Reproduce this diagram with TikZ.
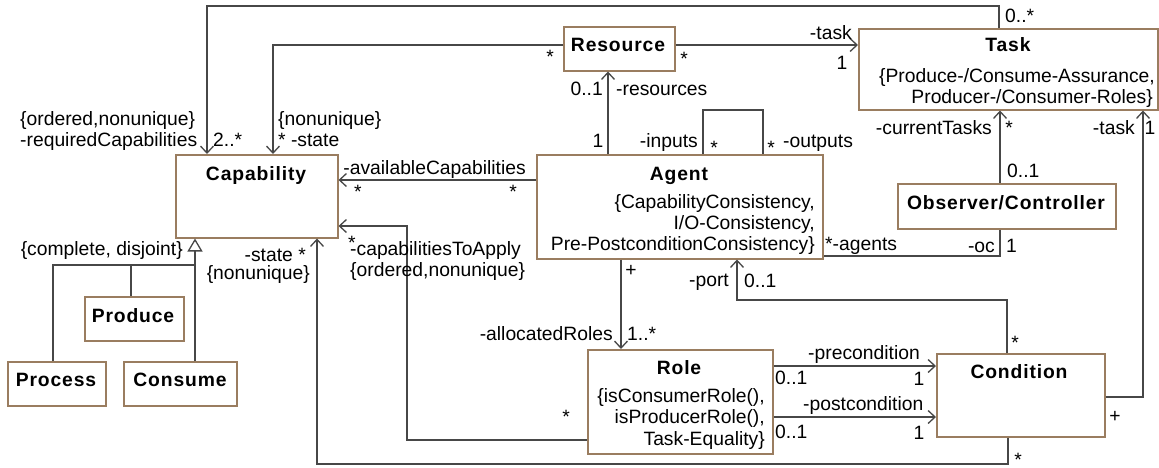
\documentclass[tikz,border=0pt]{standalone}
\usepackage{fontspec}
\setmainfont{Liberation Sans}
\newfontfamily\titlefont{Liberation Sans}[LetterSpace=4.5]
\usetikzlibrary{arrows.meta}
\definecolor{boxedge}{HTML}{9A7D60}
\definecolor{wire}{HTML}{474747}
\newcommand\diagsize{\fontsize{19.3}{21}\selectfont}

\begin{document}
\begin{tikzpicture}[x=1pt,y=-1pt,
  font=\diagsize,
  cls/.style={draw=boxedge, line width=1.5pt, fill=white, inner sep=0pt, anchor=north west},
  wireline/.style={draw=wire, line width=1.3pt},
  nav/.style={-{Straight Barb[length=7pt,width=13pt]}},
  gen/.style={-{Triangle[open,length=13pt,width=15pt,fill=white]}},
  lbl/.style={inner sep=0pt, text height=0.72em, text depth=0.21em, yshift=-4.5pt},
  mult/.style={inner sep=0pt, text height=0.74em, text depth=-0.40em, yshift=-5.5pt},
  ttl/.style={lbl, font=\titlefont\bfseries\diagsize}]

\useasboundingbox (0,0) rectangle (1159,467);

% ---- classes ----
\node[cls, minimum width=162pt, minimum height=83pt]  (cap)     at (175,154) {};
\node[cls, minimum width=111pt, minimum height=44pt]  (res)     at (563,26)  {};
\node[cls, minimum width=299pt, minimum height=81pt]  (task)    at (858,28)  {};
\node[cls, minimum width=286pt, minimum height=104pt] (agent)   at (536,154) {};
\node[cls, minimum width=218pt, minimum height=45pt]  (obs)     at (897,183) {};
\node[cls, minimum width=185pt, minimum height=104pt] (role)    at (587,349) {};
\node[cls, minimum width=168pt, minimum height=83pt]  (cond)    at (936,353) {};
\node[cls, minimum width=99pt,  minimum height=44pt]  (produce) at (84,296)  {};
\node[cls, minimum width=98pt,  minimum height=44pt]  (process) at (7,361)   {};
\node[cls, minimum width=113pt, minimum height=44pt]  (consume) at (123,361) {};

% ---- class names and constraints ----
\node[ttl] (capT)  at (256,173)  {Capability};
\node[ttl] (resT)  at (618,44)   {Resource};
\node[ttl] (taskT) at (1008,44)  {Task};
\node[lbl, anchor=east] (taskC1) at (1155,75) {\{Produce-/Consume-Assurance,};
\node[lbl, anchor=east] (taskC2) at (1153,96) {Producer-/Consumer-Roles\}};
\node[ttl] (agentT) at (679,173) {Agent};
\node[lbl, anchor=east] (agentC1) at (815,201) {\{CapabilityConsistency,};
\node[lbl, anchor=east] (agentC2) at (815,222) {I/O-Consistency,};
\node[lbl, anchor=east] (agentC3) at (815,243) {Pre-PostconditionConsistency\}};
\node[ttl] (obsT)  at (1006,202) {Observer/Controller};
\node[ttl] (roleT) at (679,367)  {Role};
\node[lbl, anchor=east] (roleC1) at (765,395) {\{isConsumerRole(),};
\node[lbl, anchor=east] (roleC2) at (765,416) {isProducerRole(),};
\node[lbl, anchor=east] (roleC3) at (765,438) {Task-Equality\}};
\node[ttl] (condT) at (1019,371) {Condition};
\node[ttl] (produceT) at (133,315) {Produce};
\node[ttl] (processT) at (56,379)  {Process};
\node[ttl] (consumeT) at (180,379) {Consume};

% ---- associations ----
\draw[wireline,nav] (999,0 |- task.north) |- (207,6) -- (207,0 |- cap.north);
\draw[wireline,nav] (res.west |- 0,45) -| (273,0 |- cap.north);
\draw[wireline,nav] (res.east |- 0,45) -- (task.west |- 0,45);
\draw[wireline,nav] (608,0 |- agent.north) -- (608,0 |- res.south);
\draw[wireline] (703,0 |- agent.north) |- (763,110) -- (763,0 |- agent.north);
\draw[wireline,nav] (agent.west |- 0,180) -- (cap.east |- 0,180);
\draw[wireline,nav] (1000,0 |- obs.north) -- (1000,0 |- task.south);
\draw[wireline] (1000,0 |- obs.south) |- (agent.east |- 0,256);
\draw[wireline,nav] (621,0 |- agent.south) -- (621,0 |- role.north);
\draw[wireline,nav] (1007,0 |- cond.north) |- (737,300) -- (737,0 |- agent.south);
\draw[wireline,nav] (role.east |- 0,366) -- (cond.west |- 0,366);
\draw[wireline,nav] (role.east |- 0,417) -- (cond.west |- 0,417);
\draw[wireline,nav] (cond.east |- 0,397) -| (1143,0 |- task.south);
\draw[wireline,nav] (role.west |- 0,440) -| (407,226) -- (cap.east |- 0,226);
\draw[wireline,nav] (1008,0 |- cond.south) |- (317,464) -- (317,0 |- cap.south);

% ---- generalization ----
\draw[wireline,gen] (53,0 |- process.north) |- (195,265) -- (195,0 |- cap.south);
\draw[wireline] (195,0 |- consume.north) -- (195,265);
\draw[wireline] (131,0 |- produce.north) -- (131,265);

% ---- role names and multiplicities ----
\node[lbl, anchor=west] (a1) at (20,118)  {\{ordered,nonunique\}};
\node[lbl, anchor=west] (a2) at (20,139)  {-requiredCapabilities};
\node[lbl, anchor=west] (a3) at (213,139) {2..*};
\node[lbl, anchor=west] (a4) at (278,118) {\{nonunique\}};
\node[lbl, anchor=west] (a5) at (278,139) {* -state};
\node[lbl, anchor=east] (a6) at (526,167) {-availableCapabilities};
\node[mult] (a7) at (358,189) {*};
\node[mult] (a8) at (513,189) {*};
\node[mult] (a9) at (550,54)  {*};
\node[mult] (a10) at (684,56) {*};
\node[lbl, anchor=east] (a11) at (852,32) {-task};
\node[lbl] (a12) at (842,62) {1};
\node[lbl, anchor=east] (a13) at (603,88) {0..1};
\node[lbl, anchor=west] (a14) at (616,88) {-resources};
\node[lbl] (a15) at (598,140) {1};
\node[lbl, anchor=east] (a16) at (698,140) {-inputs};
\node[mult] (a17) at (714,145) {*};
\node[mult] (a18) at (771,145) {*};
\node[lbl, anchor=west] (a19) at (783,140) {-outputs};
\node[lbl, anchor=west] (a20) at (1005,15) {0..*};
\node[lbl, anchor=east] (a21) at (992,127) {-currentTasks};
\node[mult] (a22) at (1009,125) {*};
\node[lbl, anchor=west] (a23) at (1007,170) {0..1};
\node[lbl, anchor=east] (a24) at (1135,127) {-task};
\node[lbl] (a25) at (1150,127) {1};
\node[lbl, anchor=west] (a26) at (825,243) {*-agents};
\node[lbl, anchor=east] (a27) at (995,245) {-oc};
\node[lbl, anchor=west] (a28) at (1006,245) {1};
\node[lbl] (a29) at (631,269) {+};
\node[lbl, anchor=east] (a30) at (729,279) {-port};
\node[lbl, anchor=west] (a31) at (744,280) {0..1};
\node[lbl, anchor=east] (a32) at (613,333) {-allocatedRoles};
\node[lbl, anchor=west] (a33) at (627,333) {1..*};
\node[lbl, anchor=west] (a34) at (808,352) {-precondition};
\node[lbl, anchor=west] (a35) at (775,377) {0..1};
\node[lbl] (a36) at (919,378) {1};
\node[lbl, anchor=west] (a37) at (803,403) {-postcondition};
\node[lbl, anchor=west] (a38) at (775,431) {0..1};
\node[lbl] (a39) at (919,432) {1};
\node[mult] (a40) at (1015,340) {*};
\node[lbl] (a41) at (1115,415) {+};
\node[mult] (a42) at (1018,457) {*};
\node[mult] (a43) at (566,414) {*};
\node[mult] (a44) at (352,240) {*};
\node[lbl, anchor=west] (a45) at (350,248) {-capabilitiesToApply};
\node[lbl, anchor=west] (a46) at (350,269) {\{ordered,nonunique\}};
\node[lbl, anchor=east] (a47) at (306,254) {-state *};
\node[lbl, anchor=east] (a48) at (310,272) {\{nonunique\}};
\node[lbl, anchor=east] (a49) at (183,248) {\{complete, disjoint\}};
\end{tikzpicture}
\end{document}
